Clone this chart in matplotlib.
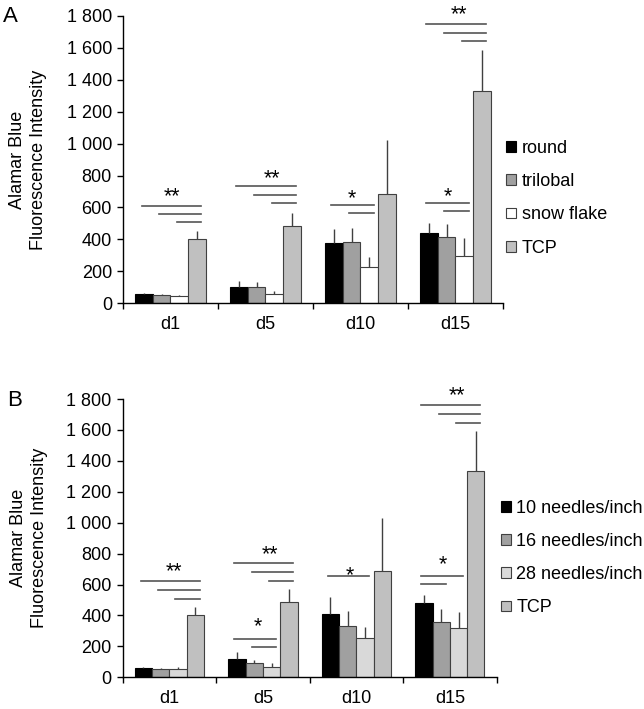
import numpy as np
import matplotlib.pyplot as plt
from matplotlib.ticker import FuncFormatter

plt.rcParams['font.family'] = ['Liberation Sans', 'DejaVu Sans']

#
#  Data
#
days = ['d1', 'd5', 'd10', 'd15']
yticks = [0, 200, 400, 600, 800, 1000, 1200, 1400, 1600, 1800]

# Panel A - fibre cross section
a_labels = ['round', 'trilobal', 'snow flake', 'TCP']
a_round = [56, 104, 375, 437]
a_round_err = [7, 38, 91, 65]
a_trilobal = [52, 104, 383, 416]
a_trilobal_err = [7, 31, 87, 80]
a_snow = [48, 60, 225, 298]
a_snow_err = [7, 17, 62, 110]
a_tcp = [400, 481, 685, 1327]
a_tcp_err = [50, 86, 335, 261]

# Panel B - needle density
b_labels = ['10 needles/inch', '16 needles/inch', '28 needles/inch', 'TCP']
b_10 = [58, 120, 409, 479]
b_10_err = [7, 42, 108, 53]
b_16 = [54, 90, 332, 360]
b_16_err = [5, 20, 97, 82]
b_28 = [54, 67, 256, 321]
b_28_err = [12, 23, 71, 99]
b_tcp = [405, 485, 688, 1334]
b_tcp_err = [52, 84, 340, 261]

# significance lines: (day, from bar, to bar, y)
a_sig = [(0, 0, 3, 610), (0, 1, 3, 556), (0, 2, 3, 506),
         (1, 0, 3, 735), (1, 1, 3, 677), (1, 2, 3, 629),
         (2, 0, 2, 616), (2, 1, 2, 566),
         (3, 0, 2, 625), (3, 1, 2, 575),
         (3, 0, 3, 1750), (3, 1, 3, 1694), (3, 2, 3, 1639)]
b_sig = [(0, 0, 3, 623), (0, 1, 3, 565), (0, 2, 3, 509),
         (1, 0, 3, 739), (1, 1, 3, 681), (1, 2, 3, 625),
         (1, 0, 2, 248), (1, 1, 2, 194),
         (2, 0, 2, 653),
         (3, 0, 2, 653), (3, 0, 1, 601),
         (3, 0, 3, 1761), (3, 1, 3, 1703), (3, 2, 3, 1647)]

# stars: (day, bar slot, baseline y, text)
a_stars = [(0, 1.57, 635, '**'), (1, 1.85, 744, '**'), (2, 1.03, 623, '*'),
           (3, 1.09, 633, '*'), (3, 1.70, 1771, '**')]
b_stars = [(0, 1.76, 645, '**'), (1, 1.90, 759, '**'), (1, 1.23, 289, '*'),
           (2, 1.12, 623, '*'), (3, 1.11, 692, '*'), (3, 1.89, 1783, '**')]

a_colors = ['#000000', '#a0a0a0', '#ffffff', '#c0c0c0']
b_colors = ['#000000', '#a0a0a0', '#d9d9d9', '#c0c0c0']
edge = '#404040'
W = 0.185


def slot_x(day, slot):
    return day + (slot - 1.5) * W


def draw_panel(ax, labels, means, errs, colors, sig, stars, leg_xy):
    x = np.arange(len(days))
    handles = []
    for j in range(4):
        b = ax.bar(x + (j - 1.5) * W, means[j], W,
                   yerr=[np.zeros(len(days)), errs[j]],
                   color=colors[j], edgecolor='black' if j == 0 else edge,
                   linewidth=0.8,
                   error_kw=dict(ecolor=edge, elinewidth=1.0, capsize=0))
        handles.append(b)

    for d, i, k, y in sig:
        ax.plot([slot_x(d, i - 0.15), slot_x(d, k + 0.25)], [y, y],
                color='#555555', lw=1.2, clip_on=False)
    for d, s, y, t in stars:
        ax.text(slot_x(d, s), y, t, ha='center', va='baseline',
                fontsize=15.5, clip_on=False)

    ax.set_xlim(-0.5, len(days) - 0.5)
    ax.set_ylim(0, 1800)
    ax.set_yticks(yticks)
    ax.yaxis.set_major_formatter(FuncFormatter(
        lambda v, p: f'{int(v):,}'.replace(',', ' ')))
    ax.set_xticks(np.arange(-0.5, len(days), 1.0))
    ax.set_xticklabels([])
    ax.set_xticks(x, minor=True)
    ax.set_xticklabels(days, minor=True)
    ax.tick_params(axis='x', which='minor', length=0, pad=9, labelsize=13)
    ax.tick_params(axis='x', which='major', length=4, width=1, direction='out')
    ax.tick_params(axis='y', length=4, width=1, pad=4, labelsize=13)
    for s in ['top', 'right']:
        ax.spines[s].set_visible(False)
    for s in ['left', 'bottom']:
        ax.spines[s].set_linewidth(1.0)

    ax.set_ylabel('Alamar Blue\nFluorescence Intensity', fontsize=13,
                  linespacing=1.3)
    ax.yaxis.set_label_coords(-0.2, 0.5)

    ax.legend(handles, labels, loc='center left', bbox_to_anchor=leg_xy,
              bbox_transform=ax.figure.transFigure, frameon=False,
              fontsize=13, handlelength=0.55, handleheight=0.55,
              handletextpad=0.3, labelspacing=0.9, borderpad=0,
              borderaxespad=0)


fig = plt.figure(figsize=(6.44, 7.09), dpi=100)
ax1 = fig.add_axes([0.191, 0.5722, 0.590, 0.4056])
ax2 = fig.add_axes([0.1905, 0.0447, 0.5807, 0.3925])

draw_panel(ax1, a_labels, [a_round, a_trilobal, a_snow, a_tcp],
           [a_round_err, a_trilobal_err, a_snow_err, a_tcp_err],
           a_colors, a_sig, a_stars, (0.786, 0.7204))
draw_panel(ax2, b_labels, [b_10, b_16, b_28, b_tcp],
           [b_10_err, b_16_err, b_28_err, b_tcp_err],
           b_colors, b_sig, b_stars, (0.778, 0.213))

fig.text(0.004, 1 - 6 / 709, 'A', fontsize=16, va='top')
fig.text(0.011, 1 - 390 / 709, 'B', fontsize=16, va='top')

fig.savefig('out.png', dpi=100)
